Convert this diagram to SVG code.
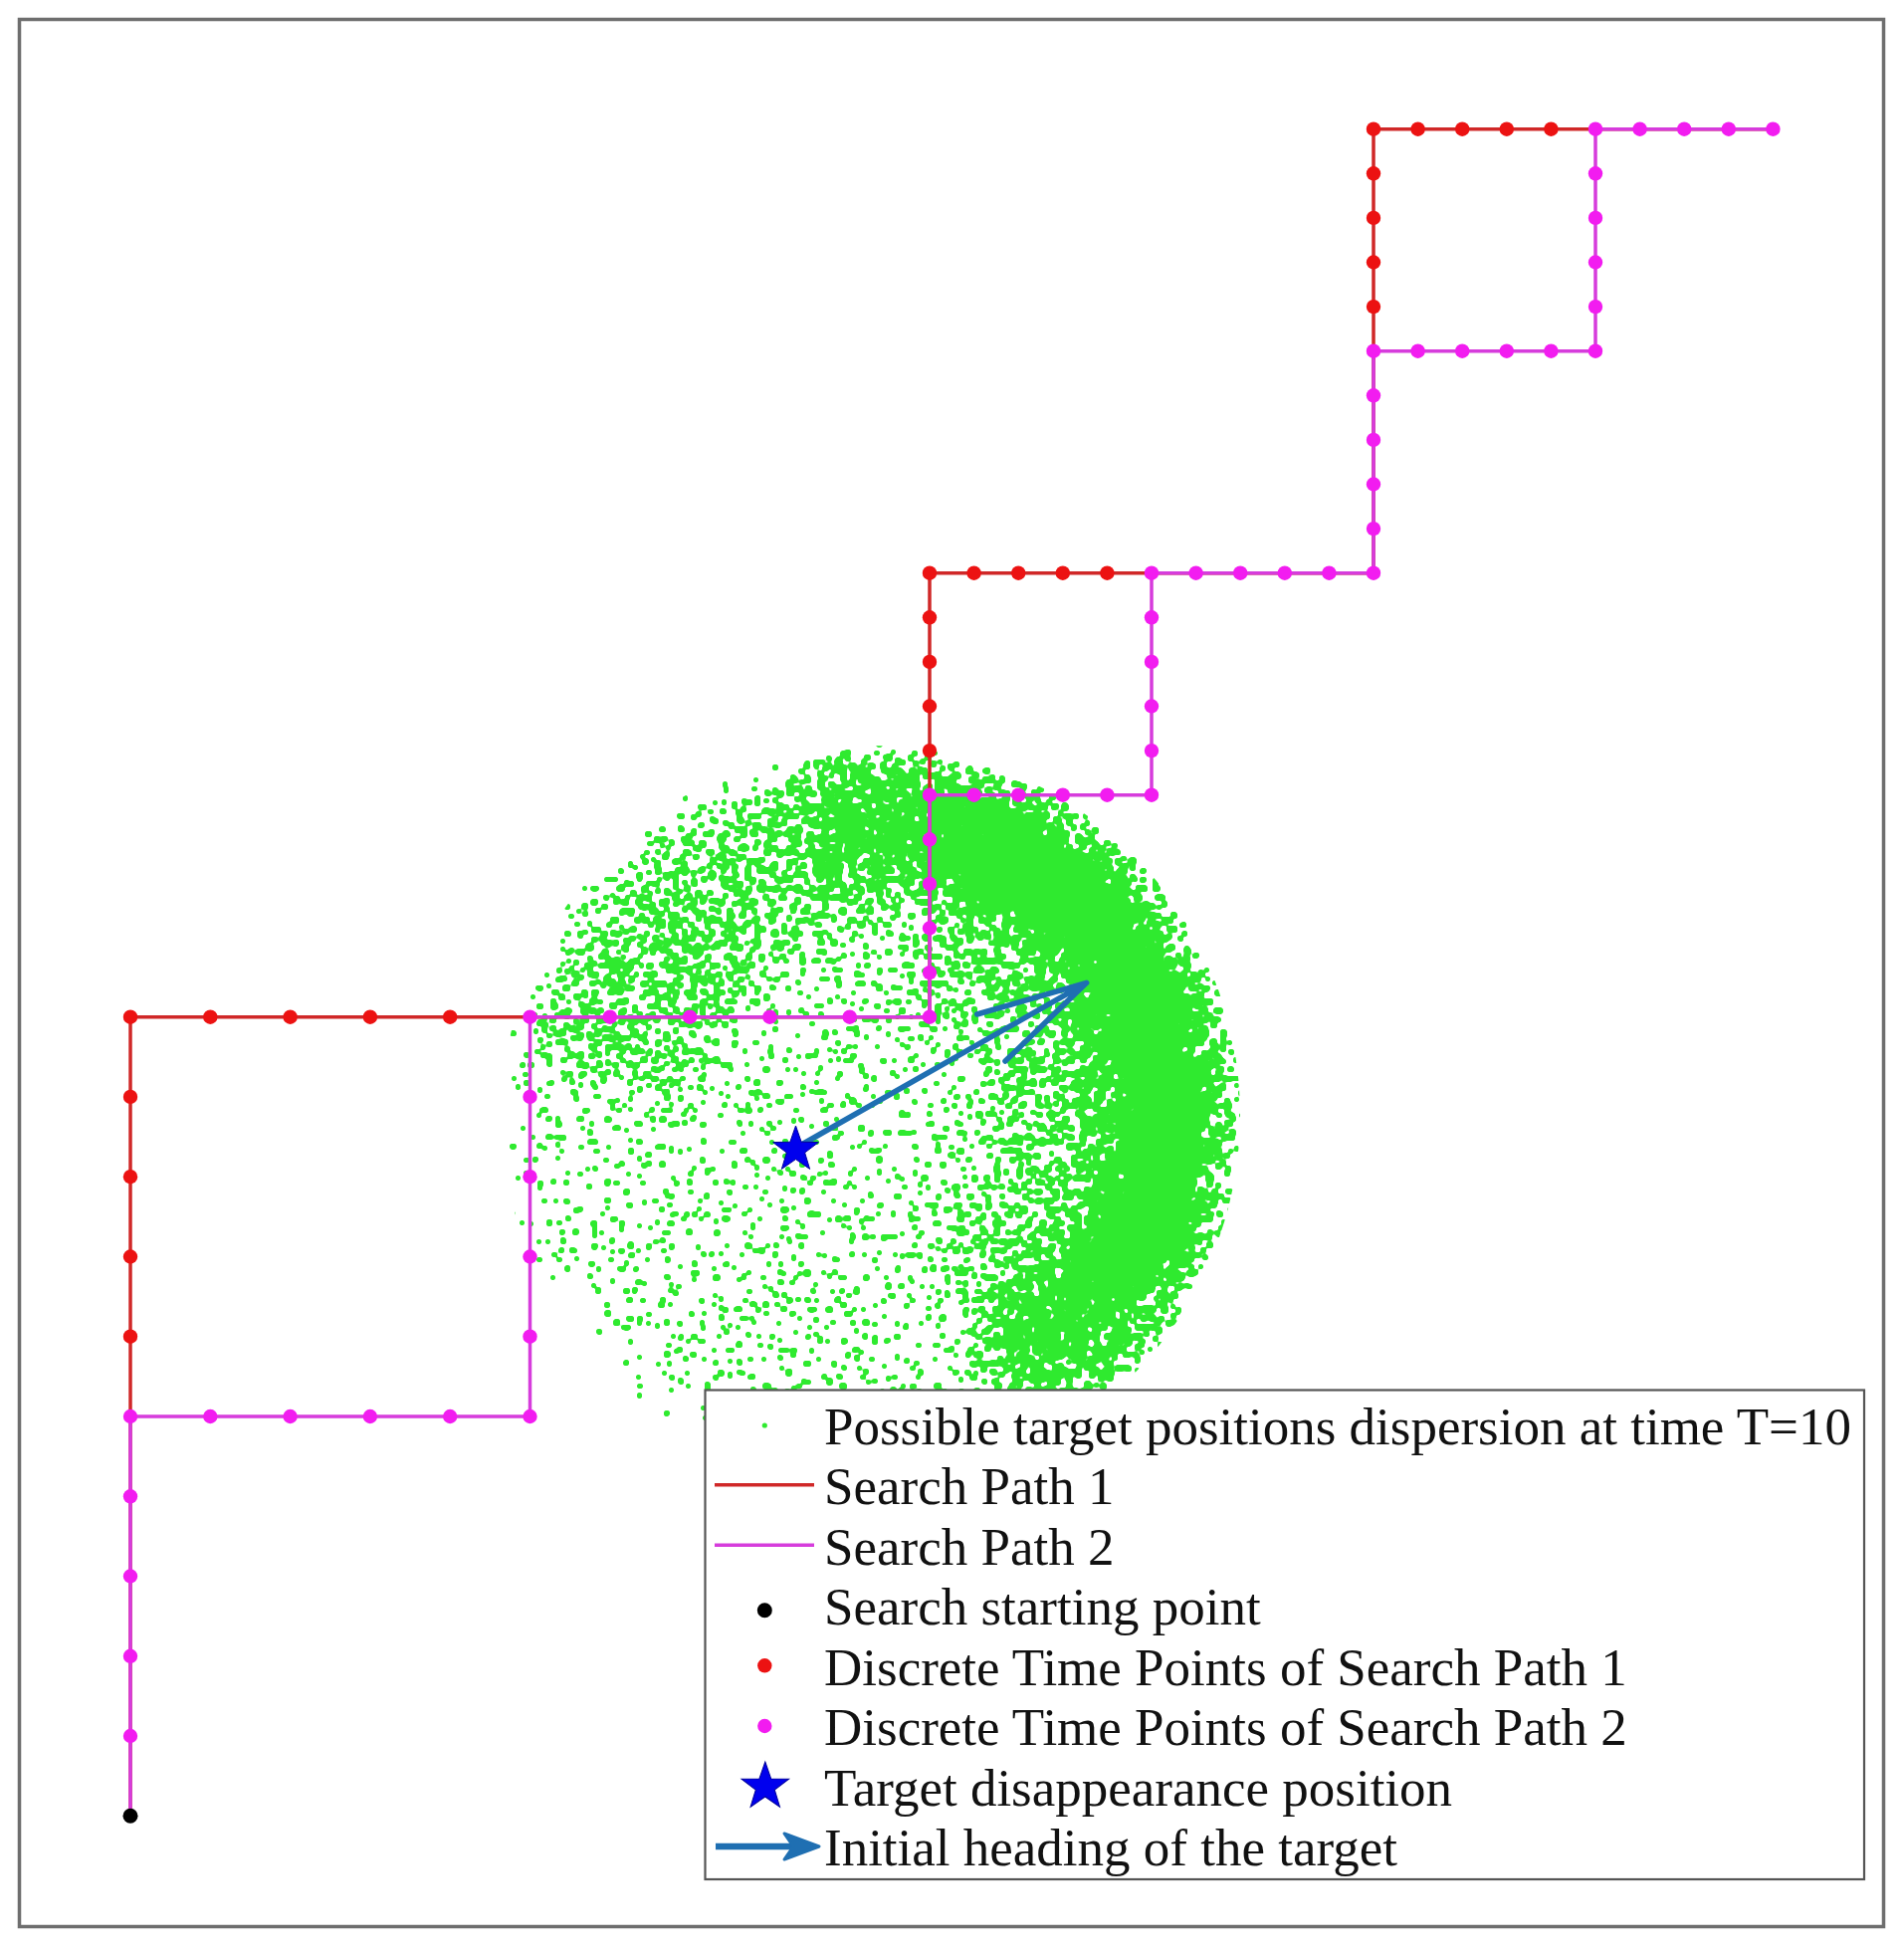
<svg xmlns="http://www.w3.org/2000/svg" width="1913" height="1957" viewBox="0 0 1913 1957">
<style>
.pr{fill:none;stroke:#d02828;stroke-width:3.5;stroke-linejoin:miter}
.pm{fill:none;stroke:#d63cdc;stroke-width:3.5;stroke-linejoin:miter}
.dr{fill:#ec1212}
.dm{fill:#f21cf0}
.lg{font-family:"Liberation Serif","Times New Roman",serif;font-size:53px;fill:#111}
.arr{fill:none;stroke:#1f6fb2;stroke-width:5.5;stroke-linecap:round}
.den{fill:none;stroke:#000}
</style>
<defs>
<path id="star" d="M0,-24 L5.64,-7.77 L22.83,-7.42 L9.13,2.97 L14.11,19.42 L0,9.6 L-14.11,19.42 L-9.13,2.97 L-22.83,-7.42 L-5.64,-7.77 Z" fill="#0000ee" stroke="#00009a" stroke-width="1"/>
<clipPath id="cloudclip"><circle cx="875" cy="1120" r="371"/></clipPath>
<filter id="scatter" filterUnits="userSpaceOnUse" x="470" y="720" width="820" height="780" color-interpolation-filters="sRGB">
<feGaussianBlur in="SourceAlpha" stdDeviation="24" result="d"/>
<feTurbulence type="fractalNoise" baseFrequency="0.22" numOctaves="1" seed="11" result="t"/>
<feColorMatrix in="t" type="matrix" values="0 0 0 0 0  0 0 0 0 0  0 0 0 0 0  1 0 0 0 0" result="n"/>
<feComposite in="n" in2="d" operator="arithmetic" k1="0" k2="1" k3="0.4" k4="-0.38" result="p"/>
<feComponentTransfer in="p" result="s"><feFuncA type="discrete" tableValues="0 1"/></feComponentTransfer>
<feMorphology in="s" operator="dilate" radius="2" result="dl"/>
<feGaussianBlur in="dl" stdDeviation="0.9" result="db"/>
<feComponentTransfer in="db" result="m"><feFuncA type="linear" slope="4" intercept="-1.6"/></feComponentTransfer>
<feFlood flood-color="#2fea2f" result="g"/>
<feComposite in="g" in2="m" operator="in"/>
</filter>
</defs>
<rect x="0" y="0" width="1913" height="1957" fill="#fff"/>

<g id="dispersion" clip-path="url(#cloudclip)">
<g filter="url(#scatter)">
<circle cx="875" cy="1120" r="372" fill="#000" opacity="0.4"/>
<path class="den" d="M612.6,1083.1 A265,265 0 0 1 865.8,855.2" stroke-width="170" opacity="0.35"/>
<path class="den" d="M926.8,926.8 A200,200 0 0 1 975,1293.2" stroke-width="150" opacity="0.3"/>
<path class="den" d="M822.9,824.6 A300,300 0 0 1 1001.8,1391.9" stroke-width="140" opacity="0.65"/>
<path class="den" d="M927.9,819.6 A305,305 0 0 1 1124.9,1295" stroke-width="100" opacity="0.45"/>
</g>
</g>

<g id="connectors">
<path id="path1" class="pr" d="M131,1824.3 V1021.7 H934 V575.7 H1380 V129.7 H1781.4"/>
<path id="path2" class="pm" d="M131,1824.3 V1423 H532.5 V1021.7 H934 V798.7 H1157 V575.7 H1380 V352.7 H1603 V129.7 H1781.4"/>
</g>

<g id="points-path1">
<circle class="dr" cx="131" cy="1342.7" r="7.2"/><circle class="dr" cx="131" cy="1262.5" r="7.2"/><circle class="dr" cx="131" cy="1182.2" r="7.2"/><circle class="dr" cx="131" cy="1101.9" r="7.2"/><circle class="dr" cx="131" cy="1021.7" r="7.2"/>
<circle class="dr" cx="211.3" cy="1021.7" r="7.2"/><circle class="dr" cx="291.6" cy="1021.7" r="7.2"/><circle class="dr" cx="371.9" cy="1021.7" r="7.2"/><circle class="dr" cx="452.2" cy="1021.7" r="7.2"/>
<circle class="dr" cx="934" cy="754.1" r="7.2"/><circle class="dr" cx="934" cy="709.5" r="7.2"/><circle class="dr" cx="934" cy="664.9" r="7.2"/><circle class="dr" cx="934" cy="620.3" r="7.2"/><circle class="dr" cx="934" cy="575.7" r="7.2"/>
<circle class="dr" cx="978.6" cy="575.7" r="7.2"/><circle class="dr" cx="1023.2" cy="575.7" r="7.2"/><circle class="dr" cx="1067.8" cy="575.7" r="7.2"/><circle class="dr" cx="1112.4" cy="575.7" r="7.2"/>
<circle class="dr" cx="1380" cy="308.1" r="7.2"/><circle class="dr" cx="1380" cy="263.5" r="7.2"/><circle class="dr" cx="1380" cy="218.9" r="7.2"/><circle class="dr" cx="1380" cy="174.3" r="7.2"/><circle class="dr" cx="1380" cy="129.7" r="7.2"/>
<circle class="dr" cx="1424.6" cy="129.7" r="7.2"/><circle class="dr" cx="1469.2" cy="129.7" r="7.2"/><circle class="dr" cx="1513.8" cy="129.7" r="7.2"/><circle class="dr" cx="1558.4" cy="129.7" r="7.2"/>
</g>

<g id="points-path2">
<circle class="dm" cx="131" cy="1744" r="7.2"/><circle class="dm" cx="131" cy="1663.8" r="7.2"/><circle class="dm" cx="131" cy="1583.5" r="7.2"/><circle class="dm" cx="131" cy="1503.3" r="7.2"/><circle class="dm" cx="131" cy="1423" r="7.2"/>
<circle class="dm" cx="211.3" cy="1423" r="7.2"/><circle class="dm" cx="291.6" cy="1423" r="7.2"/><circle class="dm" cx="371.9" cy="1423" r="7.2"/><circle class="dm" cx="452.2" cy="1423" r="7.2"/><circle class="dm" cx="532.5" cy="1423" r="7.2"/>
<circle class="dm" cx="532.5" cy="1342.7" r="7.2"/><circle class="dm" cx="532.5" cy="1262.5" r="7.2"/><circle class="dm" cx="532.5" cy="1182.2" r="7.2"/><circle class="dm" cx="532.5" cy="1101.9" r="7.2"/><circle class="dm" cx="532.5" cy="1021.7" r="7.2"/>
<circle class="dm" cx="612.8" cy="1021.7" r="7.2"/><circle class="dm" cx="693.1" cy="1021.7" r="7.2"/><circle class="dm" cx="773.4" cy="1021.7" r="7.2"/><circle class="dm" cx="853.7" cy="1021.7" r="7.2"/><circle class="dm" cx="934" cy="1021.7" r="7.2"/>
<circle class="dm" cx="934" cy="977.1" r="7.2"/><circle class="dm" cx="934" cy="932.5" r="7.2"/><circle class="dm" cx="934" cy="887.9" r="7.2"/><circle class="dm" cx="934" cy="843.3" r="7.2"/><circle class="dm" cx="934" cy="798.7" r="7.2"/>
<circle class="dm" cx="978.6" cy="798.7" r="7.2"/><circle class="dm" cx="1023.2" cy="798.7" r="7.2"/><circle class="dm" cx="1067.8" cy="798.7" r="7.2"/><circle class="dm" cx="1112.4" cy="798.7" r="7.2"/><circle class="dm" cx="1157" cy="798.7" r="7.2"/>
<circle class="dm" cx="1157" cy="754.1" r="7.2"/><circle class="dm" cx="1157" cy="709.5" r="7.2"/><circle class="dm" cx="1157" cy="664.9" r="7.2"/><circle class="dm" cx="1157" cy="620.3" r="7.2"/><circle class="dm" cx="1157" cy="575.7" r="7.2"/>
<circle class="dm" cx="1201.6" cy="575.7" r="7.2"/><circle class="dm" cx="1246.2" cy="575.7" r="7.2"/><circle class="dm" cx="1290.8" cy="575.7" r="7.2"/><circle class="dm" cx="1335.4" cy="575.7" r="7.2"/><circle class="dm" cx="1380" cy="575.7" r="7.2"/>
<circle class="dm" cx="1380" cy="531.1" r="7.2"/><circle class="dm" cx="1380" cy="486.5" r="7.2"/><circle class="dm" cx="1380" cy="441.9" r="7.2"/><circle class="dm" cx="1380" cy="397.3" r="7.2"/><circle class="dm" cx="1380" cy="352.7" r="7.2"/>
<circle class="dm" cx="1424.6" cy="352.7" r="7.2"/><circle class="dm" cx="1469.2" cy="352.7" r="7.2"/><circle class="dm" cx="1513.8" cy="352.7" r="7.2"/><circle class="dm" cx="1558.4" cy="352.7" r="7.2"/><circle class="dm" cx="1603" cy="352.7" r="7.2"/>
<circle class="dm" cx="1603" cy="308.1" r="7.2"/><circle class="dm" cx="1603" cy="263.5" r="7.2"/><circle class="dm" cx="1603" cy="218.9" r="7.2"/><circle class="dm" cx="1603" cy="174.3" r="7.2"/><circle class="dm" cx="1603" cy="129.7" r="7.2"/>
<circle class="dm" cx="1647.6" cy="129.7" r="7.2"/><circle class="dm" cx="1692.2" cy="129.7" r="7.2"/><circle class="dm" cx="1736.8" cy="129.7" r="7.2"/><circle class="dm" cx="1781.4" cy="129.7" r="7.2"/>
</g>

<circle id="start-point" cx="131" cy="1824.3" r="7.5" fill="#000"/>

<g id="heading-arrow">
<path class="arr" d="M800,1153 L1091.7,987.3 M981.7,1019 L1091.7,987.3 L1010,1066"/>
</g>
<use id="target-star" href="#star" x="799.5" y="1155"/>

<g id="legend">
<rect x="708.5" y="1396.5" width="1164.5" height="491.5" fill="#fff" stroke="#555" stroke-width="2.2"/>
<circle cx="768.3" cy="1432" r="2.6" fill="#2fea2f"/>
<text class="lg" x="828" y="1450.5">Possible target positions dispersion at time T=10</text>
<line x1="718" y1="1491.7" x2="818" y2="1491.7" stroke="#d02828" stroke-width="3.5"/>
<text class="lg" x="828" y="1511">Search Path 1</text>
<line x1="718" y1="1552.3" x2="818" y2="1552.3" stroke="#d63cdc" stroke-width="3.5"/>
<text class="lg" x="828" y="1571.5">Search Path 2</text>
<circle cx="768.3" cy="1617.7" r="7.5" fill="#000"/>
<text class="lg" x="828" y="1632">Search starting point</text>
<circle cx="768.3" cy="1673.3" r="7.2" fill="#ec1212"/>
<text class="lg" x="828" y="1692.5">Discrete Time Points of Search Path 1</text>
<circle cx="768.3" cy="1734" r="7.2" fill="#f21cf0"/>
<text class="lg" x="828" y="1753">Discrete Time Points of Search Path 2</text>
<use href="#star" x="768.8" y="1795" transform="translate(768.8,1795) scale(1.04) translate(-768.8,-1795)"/>
<text class="lg" x="828" y="1813.5">Target disappearance position</text>
<path d="M719,1855 H800" stroke="#1f6fb2" stroke-width="6.5" fill="none"/>
<path d="M788,1842 L823,1855 L788,1868 L797,1855 Z" fill="#1f6fb2" stroke="#1f6fb2" stroke-width="3" stroke-linejoin="round"/>
<text class="lg" x="828" y="1874">Initial heading of the target</text>
</g>

<rect id="frame" x="19.5" y="19.5" width="1873" height="1916" fill="none" stroke="#6e6e6e" stroke-width="3.5"/>
</svg>
